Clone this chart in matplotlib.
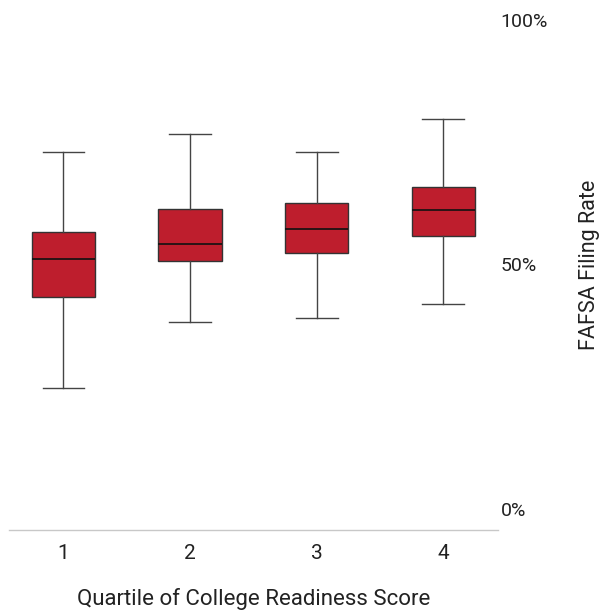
import matplotlib
matplotlib.use("Agg")
import matplotlib.pyplot as plt

# quartile groups and box statistics (FAFSA filing rate, %)
quartiles = ["1", "2", "3", "4"]
whis_low = [24.8, 38.1, 39.0, 41.8]
q1 = [43.3, 50.6, 52.3, 55.8]
median = [51.1, 54.1, 57.2, 61.0]
q3 = [56.5, 61.3, 62.6, 65.7]
whis_high = [72.9, 76.6, 73.0, 79.6]

ytick_vals = [0, 50, 100]
ytick_labels = ["0%", "50%", "100%"]

plt.rcParams['font.family'] = ['Roboto', 'DejaVu Sans']

stats = []
for i, q in enumerate(quartiles):
    stats.append(dict(label=q, whislo=whis_low[i], q1=q1[i], med=median[i],
                      q3=q3[i], whishi=whis_high[i], fliers=[]))

fig = plt.figure(figsize=(6.02, 6.12), dpi=100)
ax = fig.add_axes([0.0153, 0.134, 0.8114, 0.866])

red = '#BE1E2D'
ax.bxp(stats, positions=[1, 2, 3, 4], widths=0.5, patch_artist=True,
       showfliers=False,
       boxprops=dict(facecolor=red, edgecolor='#333333', linewidth=1),
       medianprops=dict(color='#111111', linewidth=1.2),
       whiskerprops=dict(color='#444444', linewidth=1),
       capprops=dict(color='#444444', linewidth=1),
       capwidths=0.33)

ax.set_xlim(0.572, 4.43)
ax.set_ylim(-4.3, 104)

for s in ['top', 'left', 'right']:
    ax.spines[s].set_visible(False)
ax.spines['bottom'].set_color('#c8c8c8')
ax.spines['bottom'].set_linewidth(1)

ax.yaxis.tick_right()
ax.set_yticks(ytick_vals)
ax.set_yticklabels(ytick_labels)
ax.tick_params(axis='y', length=0, pad=2, labelsize=14, labelcolor='#222222')
ax.tick_params(axis='x', length=0, pad=10, labelsize=15, labelcolor='#222222')

ax.set_xlabel('Quartile of College Readiness Score', fontsize=16, color='#222222')
ax.xaxis.set_label_coords(0.5, -(599 - 530) / 530)
ax.xaxis.label.set_va('center')

fig.text(590 / 602, 1 - 265 / 612, 'FAFSA Filing Rate', rotation=90,
         ha='center', va='center', fontsize=15.5, color='#222222')

fig.savefig('out.png', dpi=100)
